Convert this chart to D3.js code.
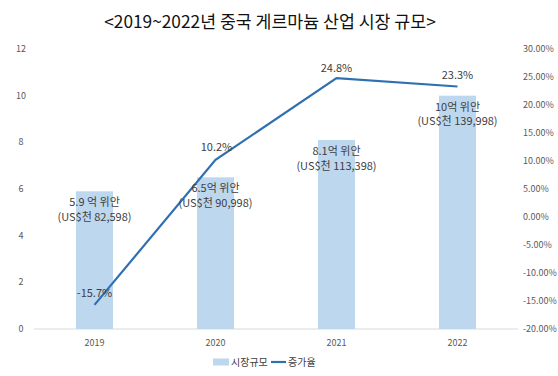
<!DOCTYPE html>
<html>
<head>
<meta charset="utf-8">
<script src="https://cdn.jsdelivr.net/npm/d3@7"></script>
<style>
  body { margin: 0; background: #fff; }
  text { font-family: "Noto Sans CJK KR", "Noto Sans", sans-serif; }
</style>
</head>
<body>
<div id="chart"></div>
<script>
// chart data
var years = ["2019", "2020", "2021", "2022"];
var marketSize = [5.9, 6.5, 8.1, 10.0];
var growthRate = [-15.7, 10.2, 24.8, 23.3];
var sizeLabels = ["5.9 억 위안", "6.5억 위안", "8.1억 위안", "10억 위안"];
var usdLabels = ["(US$천 82,598)", "(US$천 90,998)", "(US$천 113,398)", "(US$천 139,998)"];
var leftTicks = [0, 2, 4, 6, 8, 10, 12];
var rightTicks = [-20, -15, -10, -5, 0, 5, 10, 15, 20, 25, 30];

var width = 558, height = 376;
var margin = { top: 49, right: 40, bottom: 47, left: 34 };

var svg = d3.select("#chart").append("svg")
    .attr("width", width)
    .attr("height", height);

svg.append("text")
    .attr("x", 270)
    .attr("y", 28)
    .attr("text-anchor", "middle")
    .style("font-size", "17.3px")
    .attr("fill", "#111")
    .text("<2019~2022년 중국 게르마늄 산업 시장 규모>");

var x = d3.scaleBand()
    .domain(years)
    .range([margin.left, width - margin.right]);

var yLeft = d3.scaleLinear()
    .domain([0, 12])
    .range([height - margin.bottom, margin.top]);

var yRight = d3.scaleLinear()
    .domain([-20, 30])
    .range([height - margin.bottom, margin.top]);

// left axis labels
svg.selectAll(".lt")
    .data(leftTicks)
    .enter().append("text")
    .attr("x", 21)
    .attr("y", function(d) { return yLeft(d) + 3; })
    .attr("text-anchor", "middle")
    .style("font-size", "9px")
    .attr("fill", "#595959")
    .text(function(d) { return d; });

// right axis labels
svg.selectAll(".rt")
    .data(rightTicks)
    .enter().append("text")
    .attr("x", 523)
    .attr("y", function(d) { return yRight(d) + 3; })
    .attr("text-anchor", "start")
    .style("font-size", "9px")
    .attr("fill", "#595959")
    .text(function(d) { return d.toFixed(2) + "%"; });

// baseline
svg.append("line")
    .attr("x1", margin.left)
    .attr("x2", width - margin.right)
    .attr("y1", yLeft(0))
    .attr("y2", yLeft(0))
    .attr("stroke", "#d9d9d9")
    .attr("stroke-width", 1);

// x labels
svg.selectAll(".xl")
    .data(years)
    .enter().append("text")
    .attr("x", function(d) { return x(d) + x.bandwidth() / 2; })
    .attr("y", yLeft(0) + 17)
    .attr("text-anchor", "middle")
    .style("font-size", "9px")
    .attr("fill", "#595959")
    .text(function(d) { return d; });

// bars
var barW = 37;
svg.selectAll(".bar")
    .data(marketSize)
    .enter().append("rect")
    .attr("x", function(d, i) { return x(years[i]) + x.bandwidth() / 2 - barW / 2; })
    .attr("y", function(d) { return yLeft(d); })
    .attr("width", barW)
    .attr("height", function(d) { return yLeft(0) - yLeft(d); })
    .attr("fill", "#bdd7ee");

// line
var line = d3.line()
    .x(function(d, i) { return x(years[i]) + x.bandwidth() / 2; })
    .y(function(d) { return yRight(d); });

svg.append("path")
    .datum(growthRate)
    .attr("d", line)
    .attr("fill", "none")
    .attr("stroke", "#2f70b0")
    .attr("stroke-width", 2.2);

// line labels
var lineDx = [0, 1, 0, 0];
var lineDy = [-8, -9, -6, -8];
svg.selectAll(".gl")
    .data(growthRate)
    .enter().append("text")
    .attr("x", function(d, i) { return x(years[i]) + x.bandwidth() / 2 + lineDx[i]; })
    .attr("y", function(d, i) { return yRight(d) + lineDy[i]; })
    .attr("text-anchor", "middle")
    .style("font-size", "11px")
    .attr("fill", "#404040")
    .text(function(d) { return d.toFixed(1) + "%"; });

// bar labels, two lines inside the top of each bar
svg.selectAll(".sl")
    .data(marketSize)
    .enter().append("text")
    .attr("x", function(d, i) { return x(years[i]) + x.bandwidth() / 2; })
    .attr("y", function(d) { return yLeft(d) + 15; })
    .attr("text-anchor", "middle")
    .style("font-size", "11px")
    .attr("fill", "#404040")
    .text(function(d, i) { return sizeLabels[i]; });

svg.selectAll(".ul")
    .data(marketSize)
    .enter().append("text")
    .attr("x", function(d, i) { return x(years[i]) + x.bandwidth() / 2; })
    .attr("y", function(d) { return yLeft(d) + 29.5; })
    .attr("text-anchor", "middle")
    .style("font-size", "11px")
    .attr("fill", "#404040")
    .text(function(d, i) { return usdLabels[i]; });

// legend
var lg = svg.append("g").attr("transform", "translate(213,362)");
lg.append("rect")
    .attr("x", 0).attr("y", -3.5)
    .attr("width", 16).attr("height", 7)
    .attr("fill", "#bdd7ee");
lg.append("text")
    .attr("x", 18).attr("y", 3.5)
    .style("font-size", "10px")
    .attr("fill", "#404040")
    .text("시장규모");
lg.append("line")
    .attr("x1", 58).attr("x2", 73)
    .attr("y1", 0).attr("y2", 0)
    .attr("stroke", "#2f70b0")
    .attr("stroke-width", 2.2);
lg.append("text")
    .attr("x", 75).attr("y", 3.5)
    .style("font-size", "10px")
    .attr("fill", "#404040")
    .text("증가율");
</script>
</body>
</html>
